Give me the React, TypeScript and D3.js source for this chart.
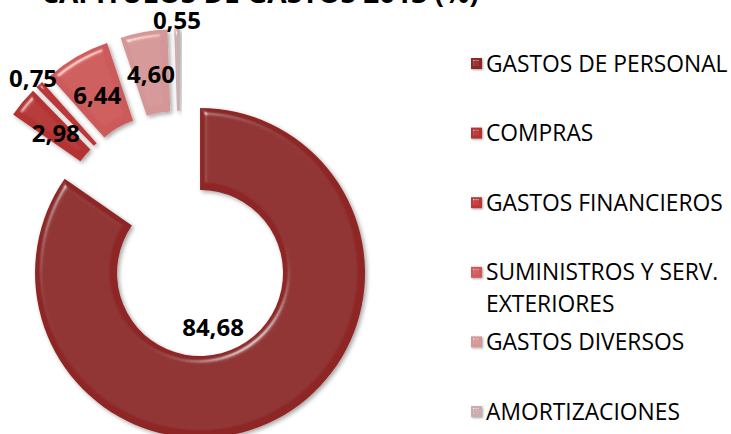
import React from "react";
import * as d3 from "d3";

const title = "CAPÍTULOS DE GASTOS 2013 (%)";
const categories = [
  "GASTOS DE PERSONAL",
  "COMPRAS",
  "GASTOS FINANCIEROS",
  "SUMINISTROS Y SERV. EXTERIORES",
  "GASTOS DIVERSOS",
  "AMORTIZACIONES",
];
const legendLines = [
  ["GASTOS DE PERSONAL"],
  ["COMPRAS"],
  ["GASTOS FINANCIEROS"],
  ["SUMINISTROS Y SERV.", "EXTERIORES"],
  ["GASTOS DIVERSOS"],
  ["AMORTIZACIONES"],
];
const values = [84.68, 2.98, 0.75, 6.44, 4.6, 0.55];
const valueLabels = values.map((v) => v.toFixed(2).replace(".", ","));
const colors = ["#8e2828", "#b43232", "#bc3637", "#cd5a5a", "#d49797", "#c9adaf"];

// label placement: radius from the (exploded) slice centre, plus a manual shift
const labelRadius = [0, 124, 174, 124, 124, 173];
const labelShift: [number, number][] = [[13, 54], [2, 5], [0, 0], [0, 3], [0, 2], [0, 0]];

const W = 731;
const H = 434;
const cx = 180.6;
const cy = 235.8;
const outerR = 165;
const innerR = 83;
const explode = 42;

export default function App() {
  const pie = d3.pie<number>().sort(null).value((d) => d).startAngle(0).endAngle(2 * Math.PI);
  const arcs = pie(values);
  const arcGen = d3.arc<d3.PieArcDatum<number>>().innerRadius(innerR).outerRadius(outerR);
  const font = "'Open Sans', 'Liberation Sans', sans-serif";

  const legendX = 471;
  const rowY = d3.scaleLinear().domain([0, 5]).range([63.5, 411.5]);

  return (
    <div style={{ position: "absolute", left: 0, top: 0 }}>
      <svg width={W} height={H} viewBox={`0 0 ${W} ${H}`} style={{ display: "block", background: "#fff" }}>
        <defs>
          <filter id="bevel" x="-20%" y="-20%" width="140%" height="140%">
            <feGaussianBlur in="SourceAlpha" stdDeviation="3" result="blur" />
            <feSpecularLighting in="blur" surfaceScale="5" specularConstant="0.7" specularExponent="45" lightingColor="#ffffff" result="spec">
              <feDistantLight azimuth="235" elevation="45" />
            </feSpecularLighting>
            <feComposite in="spec" in2="SourceAlpha" operator="in" result="specIn" />
            <feComposite in="SourceGraphic" in2="specIn" operator="arithmetic" k1="0" k2="1" k3="0.7" k4="0" result="lit" />
            <feDropShadow in="lit" dx="2" dy="2" stdDeviation="2" floodColor="#000" floodOpacity="0.35" />
          </filter>
          <filter id="bevelSmall" x="-30%" y="-30%" width="160%" height="160%">
            <feGaussianBlur in="SourceAlpha" stdDeviation="1.2" result="blur" />
            <feSpecularLighting in="blur" surfaceScale="3" specularConstant="0.7" specularExponent="40" lightingColor="#ffffff" result="spec">
              <feDistantLight azimuth="235" elevation="45" />
            </feSpecularLighting>
            <feComposite in="spec" in2="SourceAlpha" operator="in" result="specIn" />
            <feComposite in="SourceGraphic" in2="specIn" operator="arithmetic" k1="0" k2="1" k3="0.7" k4="0" result="lit" />
            <feDropShadow in="lit" dx="1" dy="1" stdDeviation="0.8" floodColor="#000" floodOpacity="0.35" />
          </filter>
        </defs>

        <text x={260} y={3} textAnchor="middle" fontFamily={font} fontWeight={700} fontSize={28} fill="#000">
          {title}
        </text>

        <g>
          {arcs.map((a, i) => {
            const mid = (a.startAngle + a.endAngle) / 2;
            const ox = cx + Math.sin(mid) * explode;
            const oy = cy - Math.cos(mid) * explode;
            return (
              <path
                key={categories[i]}
                d={arcGen(a) || ""}
                transform={`translate(${ox},${oy})`}
                fill={colors[i]}
                filter="url(#bevel)"
              />
            );
          })}
        </g>

        <g>
          {arcs.map((a, i) => {
            const mid = (a.startAngle + a.endAngle) / 2;
            const ox = cx + Math.sin(mid) * explode;
            const oy = cy - Math.cos(mid) * explode;
            const rr = labelRadius[i];
            const lx = ox + Math.sin(mid) * rr + labelShift[i][0];
            const ly = oy - Math.cos(mid) * rr + labelShift[i][1];
            return (
              <text
                key={"l" + i}
                x={lx}
                y={ly + 8.6}
                textAnchor="middle"
                fontFamily={font}
                fontWeight={700}
                fontSize={24}
                fill="#000"
              >
                {valueLabels[i]}
              </text>
            );
          })}
        </g>

        <g>
          {categories.map((c, i) => {
            const y = rowY(i);
            return (
              <g key={"lg" + i}>
                <rect x={legendX} y={y - 5.5} width={11} height={11} fill={colors[i]} filter="url(#bevelSmall)" />
                {legendLines[i].map((ln, j) => (
                  <text key={j} x={486} y={y + 8.1 + j * 32} fontFamily={font} fontSize={22.8} fill="#000">
                    {ln}
                  </text>
                ))}
              </g>
            );
          })}
        </g>
      </svg>
    </div>
  );
}
